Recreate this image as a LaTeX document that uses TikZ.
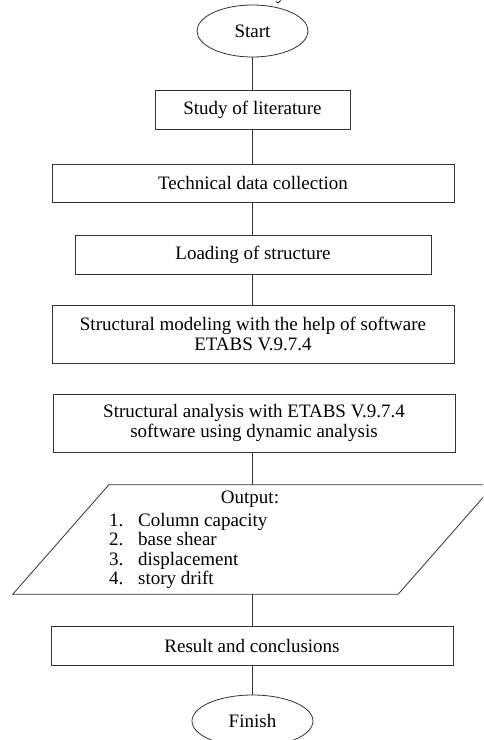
\documentclass[tikz,border=0pt]{standalone}
\usepackage{fontspec}
\setmainfont{Liberation Serif}
\usetikzlibrary{shapes.geometric}
\begin{document}
\begin{tikzpicture}[x=1pt,y=-1pt,
  every node/.style={font=\fontsize{19}{20}\selectfont, text=black},
  stepbox/.style={draw=black!80, line width=0.8pt, rectangle, inner sep=0pt, align=center},
  term/.style={draw=black!80, line width=0.8pt, ellipse, inner sep=0pt},
  link/.style={draw=black!80, line width=0.8pt}]
\useasboundingbox (0,0) rectangle (483,740);
\clip (0,0) rectangle (483,740);
\fill[white] (0,0) rectangle (483,740);

% descender of the caption line above the chart
\node[anchor=base west, inner sep=0pt] (cap) at (276,-1) {y};

% terminals and process steps
\node[term, minimum width=111pt, minimum height=52pt] (start) at (252.5,31) {Start};
\node[stepbox, minimum width=195pt, minimum height=39pt] (lit) at (252.5,109.5) {Study of literature};
\node[stepbox, minimum width=402pt, minimum height=38pt] (tech) at (253,183) {Technical data collection};
\node[stepbox, minimum width=356pt, minimum height=39pt] (load) at (253,254.5) {Loading of structure};
\node[stepbox, minimum width=402pt, minimum height=58pt] (model) at (253,334) {Structural modeling with the help of software\\ETABS V.9.7.4};
\node[stepbox, minimum width=402pt, minimum height=58pt] (anal) at (254,423) {Structural analysis with ETABS V.9.7.4\\software using dynamic analysis};

% output parallelogram: frame node spans its full extent, outline slants by 96pt
\node[rectangle, inner sep=0pt, minimum width=481pt, minimum height=109pt] (out) at (253.5,539.5) {};
\draw[link] ([xshift=96pt]out.north west) -- (out.north east)
  -- ([xshift=-96pt]out.south east) -- (out.south west) -- cycle;
\node[anchor=center] (outhead) at (250,499) {Output:};
\node[anchor=base west, inner sep=0pt] (n1) at (109,526) {1.};
\node[anchor=base west, inner sep=0pt] (t1) at (138,526) {Column capacity};
\node[anchor=base west, inner sep=0pt] (n2) at (109,545.5) {2.};
\node[anchor=base west, inner sep=0pt] (t2) at (138,545.5) {base shear};
\node[anchor=base west, inner sep=0pt] (n3) at (109,565) {3.};
\node[anchor=base west, inner sep=0pt] (t3) at (138,565) {displacement};
\node[anchor=base west, inner sep=0pt] (n4) at (109,584.5) {4.};
\node[anchor=base west, inner sep=0pt] (t4) at (138,584.5) {story drift};

\node[stepbox, minimum width=402pt, minimum height=39pt] (res) at (252,645.5) {Result and conclusions};
\node[term, minimum width=121pt, minimum height=52pt] (fin) at (252.5,721) {Finish};

% connectors
\draw[link] (start.south) -- (lit.north);
\draw[link] (lit.south) -- (lit.south |- tech.north);
\draw[link] (lit.south |- tech.south) -- (lit.south |- load.north);
\draw[link] (lit.south |- load.south) -- (lit.south |- model.north);
\draw[link] (lit.south |- anal.south) -- (lit.south |- out.north);
\draw[link] (lit.south |- out.south) -- (lit.south |- res.north);
\draw[link] (lit.south |- res.south) -- (fin.north);
\end{tikzpicture}
\end{document}
